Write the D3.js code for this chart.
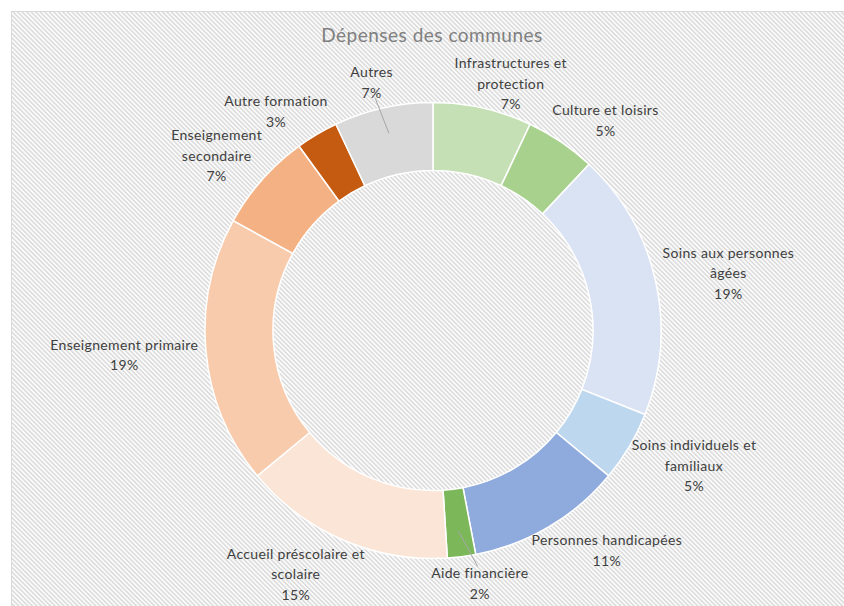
<!DOCTYPE html>
<html>
<head>
<meta charset="utf-8">
<script src="https://cdn.jsdelivr.net/npm/d3@7/dist/d3.min.js"></script>
<style>
  html, body { margin: 0; padding: 0; background: #fff; }
  svg { display: block; }
  text { font-family: Lato, 'Open Sans', sans-serif; }
</style>
</head>
<body>
<svg id="chart" width="844" height="606"></svg>
<script>
// categories, in clockwise order from 12 o'clock
var categories = [
  'Infrastructures et protection',
  'Culture et loisirs',
  'Soins aux personnes âgées',
  'Soins individuels et familiaux',
  'Personnes handicapées',
  'Aide financière',
  'Accueil préscolaire et scolaire',
  'Enseignement primaire',
  'Enseignement secondaire',
  'Autre formation',
  'Autres'
]
// share of spending, percent
var shares = [7, 5, 19, 5, 11, 2, 15, 19, 7, 3, 7]
// label lines as wrapped in the chart
var labelLines = [
  ['Infrastructures et', 'protection'],
  ['Culture et loisirs'],
  ['Soins aux personnes', 'âgées'],
  ['Soins individuels et', 'familiaux'],
  ['Personnes handicapées'],
  ['Aide financière'],
  ['Accueil préscolaire et', 'scolaire'],
  ['Enseignement primaire'],
  ['Enseignement', 'secondaire'],
  ['Autre formation'],
  ['Autres']
]
var colors = ['#c5e0b4', '#a9d18e', '#dae3f3', '#bdd7ee', '#8faadc', '#7cb85a',
  '#fbe5d6', '#f8cbad', '#f4b183', '#c55a11', '#d9d9d9']
// labels that Excel pulled away and tied back with a leader line
var withLeader = ['Autres', 'Aide financière']

var svg = d3.select('#chart')
var W = 844, H = 606

// hatched chart area
var defs = svg.append('defs')
var pat = defs.append('pattern')
  .attr('id', 'hatch')
  .attr('patternUnits', 'userSpaceOnUse')
  .attr('width', 3.2)
  .attr('height', 3.2)
  .attr('patternTransform', 'rotate(-45)')
pat.append('rect').attr('width', 3.2).attr('height', 3.2).attr('fill', '#fbfbfb')
pat.append('line')
  .attr('x1', 0.8).attr('y1', 0).attr('x2', 0.8).attr('y2', 3.2)
  .attr('stroke', '#d4d4d4').attr('stroke-width', 1.2)

svg.append('rect')
  .attr('x', 11.5).attr('y', 11.5)
  .attr('width', W).attr('height', H)
  .attr('fill', 'url(#hatch)')
  .attr('stroke', '#d9d9d9')
  .attr('stroke-width', 1)

var title = svg.append('text')
  .attr('x', 432)
  .attr('y', 42)
  .attr('text-anchor', 'middle')
  .attr('fill', '#7f7f7f')
  .style('font-size', '19px')
  .style('letter-spacing', '0.5px')
  .text('Dépenses des communes')
var titleBox = title.node().getBBox()

var cx = 433, cy = 330.5
var outerR = 228, innerR = 160

var pie = d3.pie().sort(null).value(function (d) { return d })
var arcs = pie(shares)
var arc = d3.arc().innerRadius(innerR).outerRadius(outerR)

var g = svg.append('g').attr('transform', 'translate(' + cx + ',' + cy + ')')

g.selectAll('path.slice')
  .data(arcs)
  .enter()
  .append('path')
  .attr('class', 'slice')
  .attr('d', arc)
  .attr('fill', function (d, i) { return colors[i] })
  .attr('stroke', '#fff')
  .attr('stroke-width', 1.5)

// labels: box sits just outside the ring along the slice's middle angle
var lineH = 20.5
var labelR = 236
var minTop = titleBox.y + titleBox.height + 8 - cy
var labels = g.selectAll('g.label')
  .data(arcs)
  .enter()
  .append('g')
  .attr('class', 'label')

labels.each(function (d, i) {
  var lines = labelLines[i].concat([shares[i] + '%'])
  var t = d3.select(this).append('text')
    .attr('text-anchor', 'middle')
    .attr('fill', '#404040')
    .style('font-size', '14px')
    .style('letter-spacing', '0.35px')
  lines.forEach(function (s, k) {
    t.append('tspan').attr('x', 0).attr('y', k * lineH).text(s)
  })
  var bb = t.node().getBBox()
  var a = (d.startAngle + d.endAngle) / 2
  var s = Math.sin(a), c = Math.cos(a)
  var ax = s * labelR, ay = -c * labelR
  var bx = ax + Math.sign(s) * Math.sqrt(Math.abs(s)) * bb.width / 2
  var by = ay - c * bb.height / 2
  // keep clear of the title when the box reaches up to it
  var titleL = titleBox.x - cx, titleR = titleBox.x + titleBox.width - cx
  if (by - bb.height / 2 < minTop && bx + bb.width / 2 > titleL && bx - bb.width / 2 < titleR) {
    by = minTop + bb.height / 2
  }
  // shift so the box centre lands on (bx, by)
  var ox = bx - (bb.x + bb.width / 2)
  var oy = by - (bb.y + bb.height / 2)
  t.attr('transform', 'translate(' + ox + ',' + oy + ')')

  if (withLeader.indexOf(categories[i]) >= 0) {
    var r0 = (innerR + outerR) / 2 + 8
    d3.select(this).insert('line', 'text')
      .attr('x1', s * r0)
      .attr('y1', -c * r0)
      .attr('x2', bx - s * bb.height * 0.45)
      .attr('y2', by + c * bb.height * 0.45)
      .attr('stroke', '#a6a6a6')
      .attr('stroke-width', 1)
  }
})
</script>
</body>
</html>
